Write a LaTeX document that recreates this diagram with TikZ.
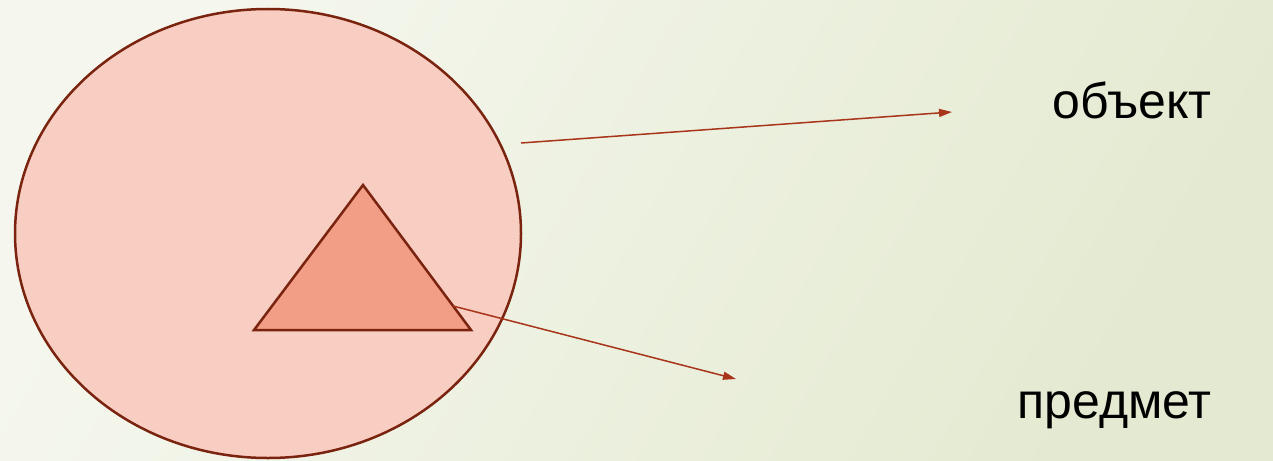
\documentclass[tikz,border=0pt]{standalone}
\usepackage{fontspec}
\setmainfont{Liberation Sans}
\usetikzlibrary{arrows.meta,shapes.geometric}
\definecolor{bgA}{HTML}{F5F7EE}
\definecolor{bgB}{HTML}{E4EAD1}
\definecolor{ellFill}{HTML}{F8CDC2}
\definecolor{edgeC}{HTML}{7A2410}
\definecolor{triFill}{HTML}{F29E86}
\definecolor{arrC}{HTML}{A8341A}
\begin{document}
\begin{tikzpicture}[x=1pt,y=-1pt,
  outline/.style={draw=edgeC,line width=2.5pt},
  conn/.style={draw=arrC,line width=1.5pt,-{Triangle[length=13pt,width=8pt]}},
  lbl/.style={anchor=base east,inner sep=0pt,font=\fontsize{50}{60}\selectfont}]
\shade[left color=bgA,right color=bgB,shading angle=60] (0,0) rectangle (1273,460);
\useasboundingbox (0,0) rectangle (1273,460);
\node[ellipse,outline,fill=ellFill,inner sep=0pt,minimum width=506pt,minimum height=449pt] (obj) at (268,233.5) {};
\coordinate (tA) at (363,185);
\coordinate (tB) at (254,330);
\coordinate (tC) at (471,330);
\draw[outline,fill=triFill,line join=miter] (tA) -- (tB) -- (tC) -- cycle;
\coordinate (s1) at (521,143);
\coordinate (e1) at (952,112);
\coordinate (s2) at (453,306);
\coordinate (e2) at (736,379);
\draw[conn] (s1) -- (e1);
\draw[conn] (s2) -- (e2);
\node[lbl] (t1) at (1212,118) {объект};
\node[lbl] (t2) at (1212,418) {предмет};
\end{tikzpicture}
\end{document}
